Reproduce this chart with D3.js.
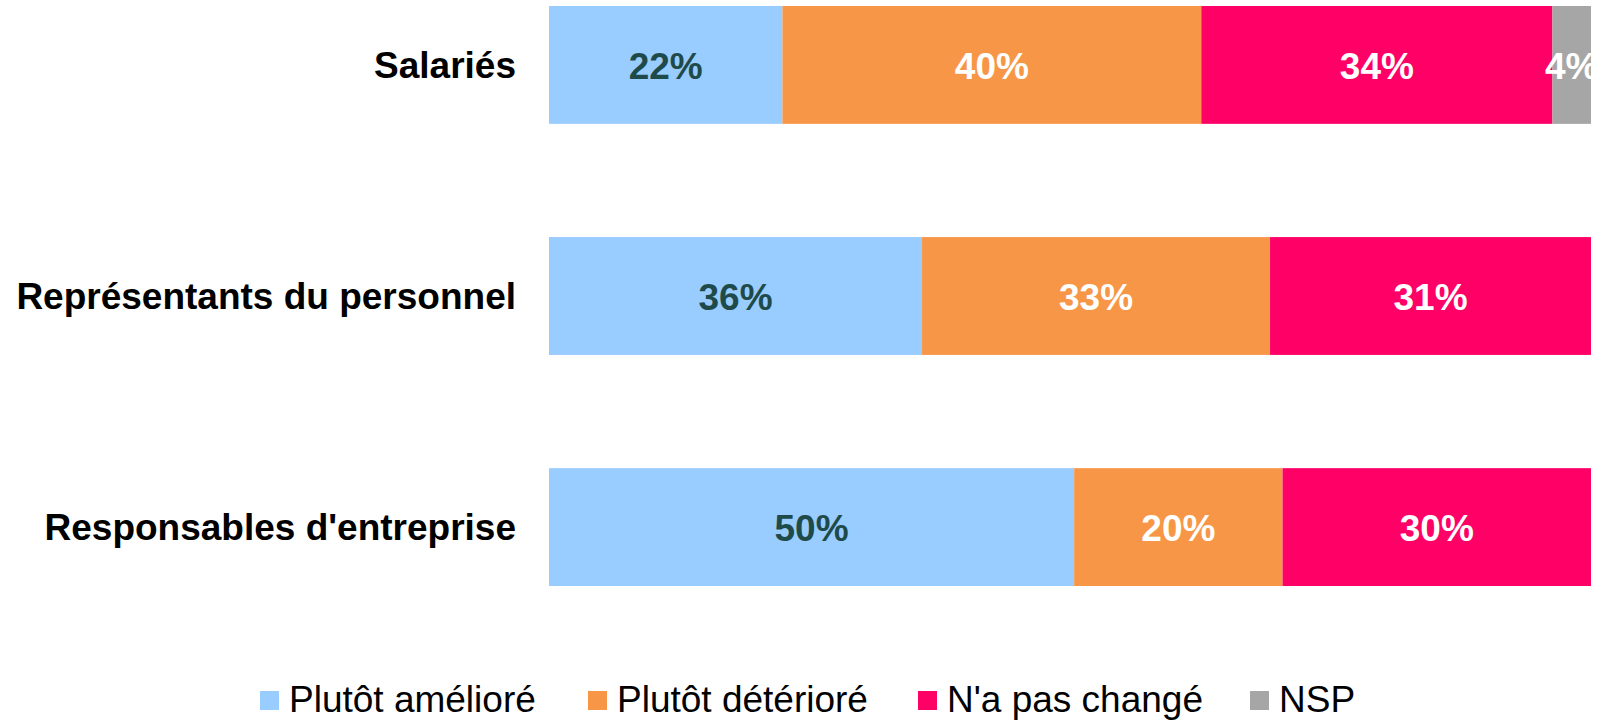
<!DOCTYPE html>
<html>
<head>
<meta charset="utf-8">
<script src="https://cdn.jsdelivr.net/npm/d3@7"></script>
<style>
  body { margin: 0; background: #fff; }
  svg { display: block; font-family: "Liberation Sans", Arial, sans-serif; }
</style>
</head>
<body>
<div id="chart"></div>
<script>
// categories top to bottom
var categories = ["Salariés", "Représentants du personnel", "Responsables d'entreprise"];
var seriesNames = ["Plutôt amélioré", "Plutôt détérioré", "N'a pas changé", "NSP"];
var seriesColors = ["#99CCFF", "#F79646", "#FF0066", "#A6A6A6"];
var labelColors = ["#1F4A4A", "#FFFFFF", "#FFFFFF", "#FFFFFF"];

// shares (labels are rounded)
var ameliore  = [22.4, 35.8, 50.4];
var deteriore = [40.2, 33.4, 20.0];
var inchange  = [33.7, 30.8, 29.6];
var nsp       = [3.7, 0, 0];

var width = 1601, height = 721;
var margin = {top: 6, right: 10, bottom: 135, left: 549};

var svg = d3.select("#chart").append("svg")
    .attr("width", width)
    .attr("height", height);

// build rows for the stack
var rows = categories.map(function(c, i) {
    return {cat: c, s0: ameliore[i], s1: deteriore[i], s2: inchange[i], s3: nsp[i]};
});
var keys = ["s0", "s1", "s2", "s3"];
var stacked = d3.stack().keys(keys)(rows);

var x = d3.scaleLinear()
    .domain([0, 100])
    .range([margin.left, width - margin.right]);

var y = d3.scaleBand()
    .domain(categories)
    .range([margin.top, height - margin.bottom])
    .paddingInner(0.49)
    .paddingOuter(0);

var layers = svg.selectAll(".layer")
    .data(stacked)
    .enter().append("g")
      .attr("class", "layer")
      .attr("fill", function(d, i) { return seriesColors[i]; });

layers.selectAll("rect")
    .data(function(d) { return d; })
    .enter().append("rect")
      .attr("x", function(d) { return x(d[0]); })
      .attr("y", function(d) { return y(d.data.cat); })
      .attr("width", function(d) { return x(d[1]) - x(d[0]); })
      .attr("height", y.bandwidth());

// value labels
layers.each(function(layer, li) {
    d3.select(this).selectAll("text")
        .data(layer.filter(function(d) { return d[1] - d[0] > 0; }))
        .enter().append("text")
          .attr("x", function(d) { return (x(d[0]) + x(d[1])) / 2; })
          .attr("y", function(d) { return y(d.data.cat) + y.bandwidth() / 2; })
          .attr("dy", "0.38em")
          .attr("text-anchor", "middle")
          .attr("fill", labelColors[li])
          .style("font-size", "37px")
          .style("font-weight", "bold")
          .text(function(d) { return Math.round(d[1] - d[0]) + "%"; });
});

// category axis, no line or ticks
var yAxis = svg.append("g")
    .attr("transform", "translate(" + (margin.left - 33) + ",0)")
    .call(d3.axisLeft(y).tickSize(0).tickPadding(0));
yAxis.select(".domain").remove();
yAxis.selectAll("text")
    .attr("fill", "#000")
    .attr("dy", "0.36em")
    .style("font-family", "'Liberation Sans', Arial, sans-serif")
    .style("font-size", "37px")
    .style("font-weight", "bold");

// legend
var legendX = [260, 588, 918, 1250];
var legend = svg.append("g").attr("class", "legend");
var item = legend.selectAll("g")
    .data(seriesNames)
    .enter().append("g")
      .attr("transform", function(d, i) { return "translate(" + legendX[i] + ",691)"; });
item.append("rect")
    .attr("width", 19)
    .attr("height", 19)
    .attr("fill", function(d, i) { return seriesColors[i]; });
item.append("text")
    .attr("x", 29)
    .attr("y", 21)
    .attr("fill", "#000")
    .style("font-size", "37px")
    .text(function(d) { return d; });
</script>
</body>
</html>
